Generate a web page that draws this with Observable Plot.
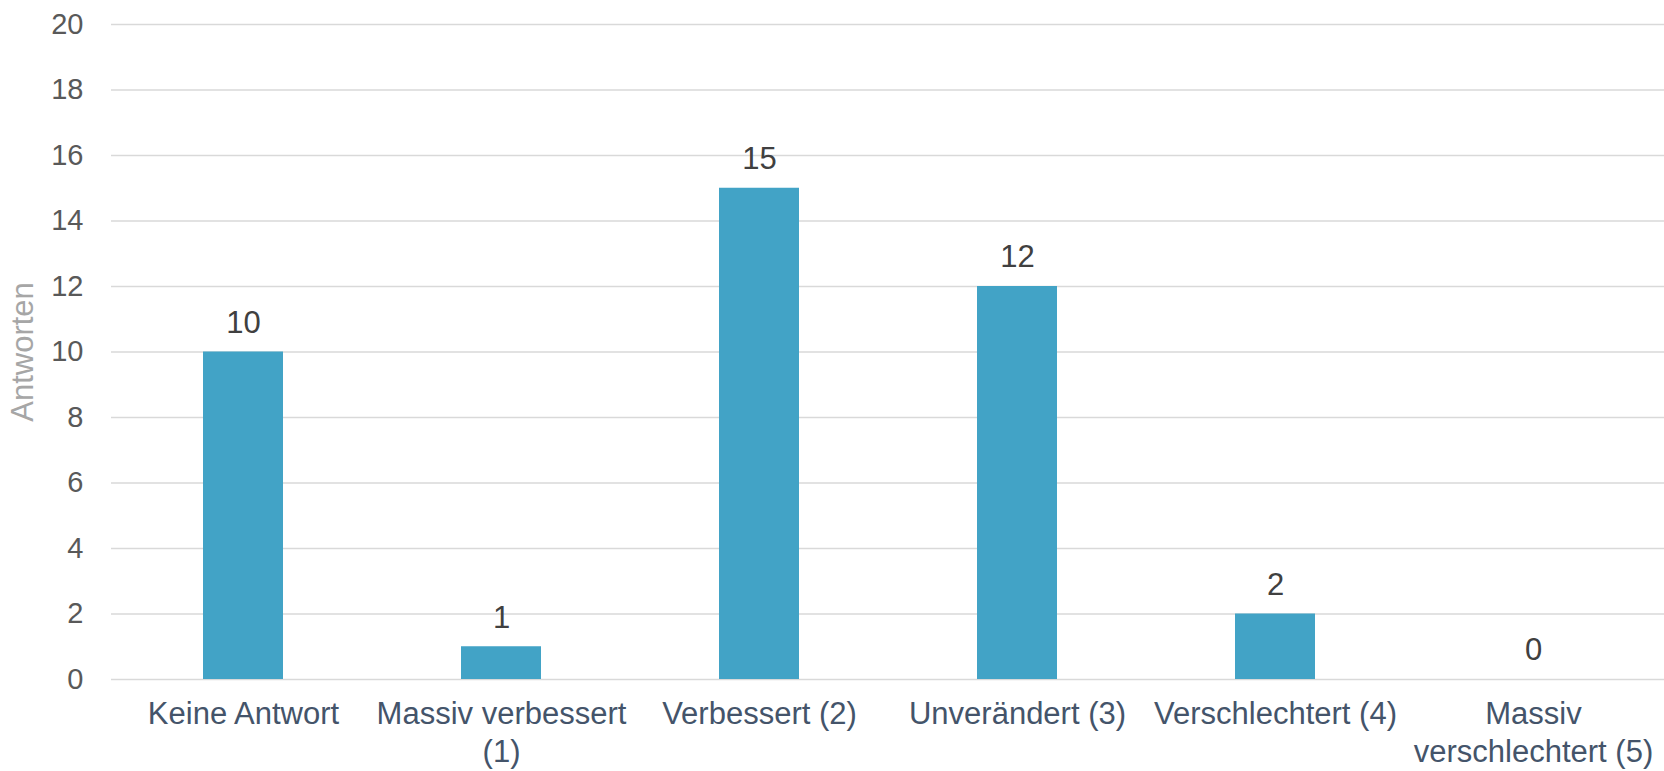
<!DOCTYPE html>
<html>
<head>
<meta charset="utf-8">
<script src="https://cdn.jsdelivr.net/npm/d3@7"></script>
<script src="https://cdn.jsdelivr.net/npm/@observablehq/plot@0.6"></script>
<style>
  html, body { margin: 0; padding: 0; background: #ffffff; }
</style>
</head>
<body>
<div id="chart"></div>
<script>
const categories = ["Keine Antwort", "Massiv verbessert (1)", "Verbessert (2)", "Unverändert (3)", "Verschlechtert (4)", "Massiv verschlechtert (5)"];
const counts = [10, 1, 15, 12, 2, 0];
const yTicks = [0, 2, 4, 6, 8, 10, 12, 14, 16, 18, 20];
const xTickLabels = ["Keine Antwort", "Massiv verbessert\n(1)", "Verbessert (2)", "Unverändert (3)", "Verschlechtert (4)", "Massiv\nverschlechtert (5)"];
const yAxisTitle = "Antworten";

const data = categories.map((c, i) => ({category: c, count: counts[i]}));
const labelOf = new Map(categories.map((c, i) => [c, xTickLabels[i]]));

const chart = Plot.plot({
  width: 1664,
  height: 771,
  marginLeft: 111,
  marginRight: 0,
  marginTop: 24,
  marginBottom: 92,
  style: {fontFamily: "'Liberation Sans', Arial, sans-serif", fontSize: "29px", background: "#ffffff"},
  x: {domain: categories, paddingInner: 0.69, paddingOuter: 0.345, label: null},
  y: {domain: [0, 20], label: null},
  marks: [
    Plot.ruleY(yTicks, {stroke: "#d9d9d9", strokeWidth: 1.5}),
    Plot.barY(data, {x: "category", y: "count", fill: "#42A3C6"}),
    Plot.text(data, {x: "category", y: "count", text: d => String(d.count), dy: -29, fill: "#404040", fontSize: 31}),
    Plot.axisX({tickSize: 0, tickPadding: 18, fill: "#44546A", fontSize: 31, tickFormat: d => labelOf.get(d), lineHeight: 1.22, label: null}),
    Plot.axisY({ticks: yTicks, tickSize: 0, tickPadding: 28, fill: "#595959", label: null}),
    Plot.text([yAxisTitle], {frameAnchor: "left", textAnchor: "middle", rotate: -90, dx: -88, fill: "#a6a6a6", fontSize: 31, text: d => d})
  ]
});
document.getElementById("chart").appendChild(chart);
</script>
</body>
</html>
